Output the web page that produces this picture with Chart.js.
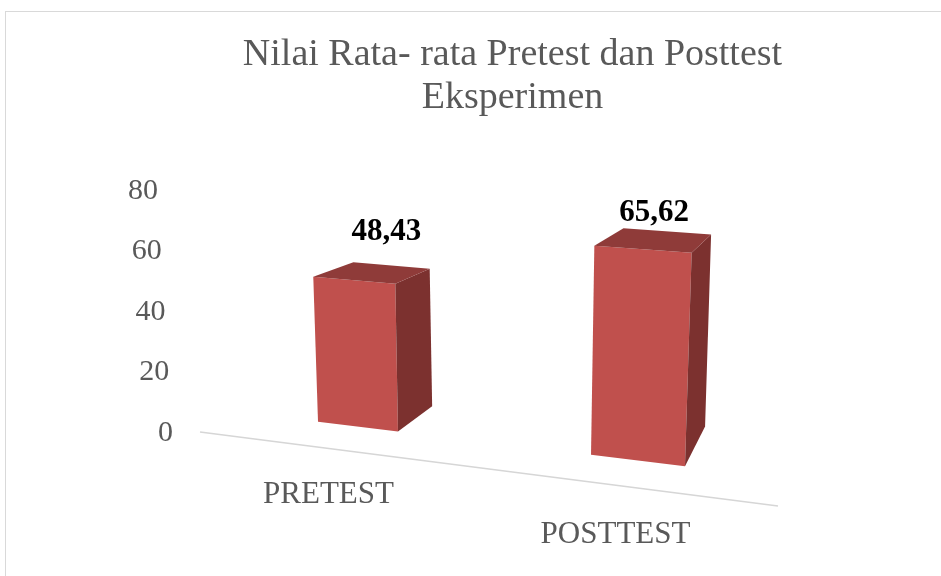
<!DOCTYPE html>
<html>
<head>
<meta charset="utf-8">
<script src="https://cdn.jsdelivr.net/npm/chart.js@4"></script>
<style>
    html, body { margin: 0; padding: 0; background: #fff; }
    canvas { display: block; }
</style>
</head>
<body>
<canvas id="barChart3d" width="941" height="576"></canvas>
<script>
// data
const categories = ['PRETEST', 'POSTTEST'];
const nilaiRataRata = [48.43, 65.62];
const yTicks = [0, 20, 40, 60, 80];
const valueLabels = ['48,43', '65,62'];
const titleLines = ['Nilai Rata- rata Pretest dan Posttest', 'Eksperimen'];

const textGray = '#595959';
const serif = "'Liberation Serif', 'Times New Roman', serif";

// perspective helpers for the 3d look
function prismPoints(el, area) {
    const mid = (area.left + area.right) / 2;
    const first = area.left + 140;
    const h = el.base - el.y;
    const hw = el.width / 2 * (1 + 0.000625 * (el.x - first));
    const pt = (x, hh) => [
        x + hh * (x - mid) * 0.00018,
        el.base - 22.3 + 0.121 * (x - area.left) - hh * (1 + 0.00023 * (x - first))
    ];
    const k = 0.07 + 0.000107 * (el.x - first);
    const vp = [area.right + 108, area.top - 120];
    const back = p => [p[0] + k * (vp[0] - p[0]), p[1] + k * (vp[1] - p[1])];
    const tl = pt(el.x - hw, h), tr = pt(el.x + hw, h);
    const bl = pt(el.x - hw, 0), br = pt(el.x + hw, 0);
    return {tl, tr, bl, br, btl: back(tl), btr: back(tr), bbr: back(br)};
}

function poly(ctx, pts, color) {
    ctx.beginPath();
    ctx.moveTo(pts[0][0], pts[0][1]);
    for (let i = 1; i < pts.length; i++) ctx.lineTo(pts[i][0], pts[i][1]);
    ctx.closePath();
    ctx.fillStyle = color;
    ctx.fill();
}

const bar3d = {
    id: 'bar3d',
    beforeDraw(chart) {
        const ctx = chart.ctx;
        ctx.save();
        ctx.fillStyle = '#fff';
        ctx.fillRect(0, 0, chart.width, chart.height);
        ctx.strokeStyle = '#d9d9d9';
        ctx.lineWidth = 1;
        ctx.strokeRect(5.5, 11.5, chart.width + 10, chart.height + 10);

        // title
        ctx.fillStyle = textGray;
        ctx.font = '38px ' + serif;
        ctx.textAlign = 'center';
        ctx.textBaseline = 'alphabetic';
        ctx.fillText(titleLines[0], 512.5, 65);
        ctx.fillText(titleLines[1], 512.5, 108);
        ctx.restore();
    },
    afterDatasetsDraw(chart) {
        const ctx = chart.ctx;
        const area = chart.chartArea;
        const yScale = chart.scales.y;
        ctx.save();

        // floor edge
        ctx.strokeStyle = '#d6d6d6';
        ctx.lineWidth = 1.5;
        ctx.beginPath();
        ctx.moveTo(area.left - 18, area.bottom);
        ctx.lineTo(area.right, area.bottom + 74);
        ctx.stroke();

        // y ticks
        ctx.fillStyle = textGray;
        ctx.font = '30px ' + serif;
        ctx.textAlign = 'right';
        ctx.textBaseline = 'middle';
        yTicks.forEach(v => {
            const x = area.left - 45 - (v / yScale.max) * 15;
            ctx.fillText(String(v), x, yScale.getPixelForValue(v) + 1);
        });

        const meta = chart.getDatasetMeta(0);
        const first = area.left + 140;
        meta.data.forEach((el, i) => {
            const p = prismPoints(el, area);
            poly(ctx, [p.tl, p.tr, p.br, p.bl], '#C0504D');
            poly(ctx, [p.tr, p.btr, p.bbr, p.br], '#7C312F');
            poly(ctx, [p.tl, p.tr, p.btr, p.btl], '#8F3B39');

            const d = el.x - first;
            // value label
            const cx = (p.tl[0] + p.tr[0]) / 2, cy = (p.tl[1] + p.tr[1]) / 2;
            ctx.fillStyle = '#000';
            ctx.font = 'bold 31px ' + serif;
            ctx.textAlign = 'center';
            ctx.textBaseline = 'alphabetic';
            ctx.fillText(valueLabels[i], cx + 32 - d * 0.075, cy - 40.5 + d * 0.0446);

            // category label
            ctx.fillStyle = textGray;
            ctx.font = '31px ' + serif;
            ctx.fillText(categories[i], el.x - 29.5 + d * 0.025, el.base + 71 + d * 0.143);
        });
        ctx.restore();
    }
};

new Chart(document.getElementById('barChart3d'), {
    type: 'bar',
    data: {
        labels: categories,
        datasets: [{
            label: 'Nilai Rata-rata',
            data: nilaiRataRata,
            backgroundColor: 'rgba(0,0,0,0)',
            borderWidth: 0,
            categoryPercentage: 0.8,
            barPercentage: 0.357
        }]
    },
    options: {
        responsive: false,
        animation: false,
        layout: {
            padding: { left: 218, right: 163, top: 190, bottom: 144 }
        },
        scales: {
            x: { display: false, offset: true },
            y: { display: false, min: 0, max: 80 }
        },
        plugins: {
            legend: { display: false },
            tooltip: { enabled: false },
            title: { display: false }
        }
    },
    plugins: [bar3d]
});
</script>
</body>
</html>
